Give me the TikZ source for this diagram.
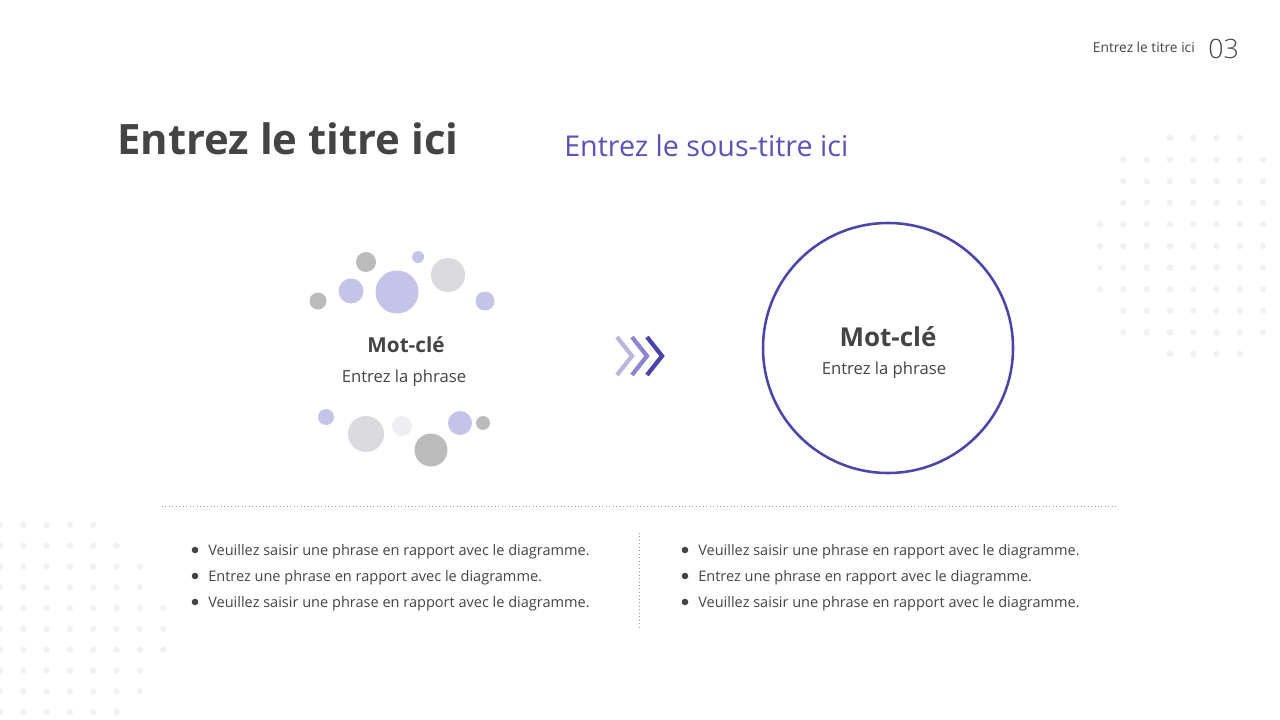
\documentclass[tikz,border=0pt]{standalone}
\usepackage{fontspec}
\setmainfont{Open Sans}
\newfontfamily\lightfont{Open Sans Light}
\definecolor{txt}{HTML}{444444}
\definecolor{indigo}{HTML}{4B45A9}
\definecolor{subc}{HTML}{5A52B8}
\definecolor{bpurple}{HTML}{C6C3E8}
\definecolor{bgray}{HTML}{BBBBBB}
\definecolor{blgray}{HTML}{D9D9DE}
\definecolor{bvlgray}{HTML}{EEEEF1}
\definecolor{dotc}{HTML}{F1F1F3}
\definecolor{chev1}{HTML}{BAB6DE}
\definecolor{chev2}{HTML}{8C86CF}
\definecolor{chev3}{HTML}{4B45A9}
\tikzset{
  bubble/.style={circle,inner sep=0pt,minimum size={0.75pt*#1}},
  bgdot/.style={fill=dotc},
  bullettext/.style={anchor=base west,inner sep=0pt,font=\fontsize{10.9pt}{12pt}\selectfont,text=txt},
  chevron/.style={line width=3.2pt,line cap=butt,line join=miter},
}
\begin{document}
\begin{tikzpicture}[x=0.75pt,y=-0.75pt]
\useasboundingbox[fill=white] (0,0) rectangle (1280,720);
% background dot patterns
\foreach \j/\a/\b in {0/3/6,1/1/7,2/1/7,3/1/7,4/0/7,5/0/7,6/0/7,7/0/7,8/1/7,9/1/7,10/3/6}{
  \foreach \k in {\a,...,\b}{
    \fill[bgdot] ({1100+23.3*\k},{138+21.6*\j}) circle (3.2);
  }
}
\foreach \j/\b in {0/4,1/5,2/6,3/6,4/7,5/7,6/7,7/6,8/6,9/5}{
  \foreach \k in {0,...,\b}{
    \fill[bgdot] ({0+23.3*\k},{525+20.8*\j}) circle (3.2);
  }
}
% header
\node[anchor=base east,inner sep=0pt,text=txt,font=\fontsize{10.3pt}{11pt}\selectfont] (hdr) at (1195,53) {Entrez le titre ici};
\node[anchor=base west,inner sep=0pt,text=txt,font=\lightfont\fontsize{20pt}{22pt}\selectfont] (num) at (1208,59) {03};
% title
\node[anchor=base west,inner sep=0pt,text=txt,font=\bfseries\fontsize{31.4pt}{34pt}\selectfont] (title) at (117,155) {Entrez le titre ici};
\node[anchor=base west,inner sep=0pt,text=subc,font=\fontsize{21.5pt}{24pt}\selectfont] (sub) at (564,157) {Entrez le sous-titre ici};
% left bubbles
\node[bubble=20,fill=bgray] (b1) at (366,262) {};
\node[bubble=12,fill=bpurple] (b2) at (418,257) {};
\node[bubble=34,fill=blgray] (b3) at (448,275) {};
\node[bubble=43,fill=bpurple] (b4) at (397,292) {};
\node[bubble=25,fill=bpurple] (b5) at (351,291) {};
\node[bubble=17,fill=bgray] (b6) at (318,301) {};
\node[bubble=19,fill=bpurple] (b7) at (485,301) {};
\node[bubble=16,fill=bpurple] (b8) at (326,417) {};
\node[bubble=36,fill=blgray] (b9) at (366,434) {};
\node[bubble=20,fill=bvlgray] (b10) at (402,426) {};
\node[bubble=24,fill=bpurple] (b11) at (460,423) {};
\node[bubble=14,fill=bgray] (b12) at (483,423) {};
\node[bubble=33,fill=bgray] (b13) at (431,450) {};
\node[anchor=base,inner sep=0pt,text=txt,font=\bfseries\fontsize{15.5pt}{17pt}\selectfont] (lk) at (406,352) {Mot-clé};
\node[anchor=base,inner sep=0pt,text=txt,font=\fontsize{12.5pt}{14pt}\selectfont] (lp) at (404,382) {Entrez la phrase};
% chevrons
\coordinate (c1t) at (617,337); \coordinate (c1m) at (632,356); \coordinate (c1b) at (617,375);
\coordinate (c2t) at (632,337); \coordinate (c2m) at (647,356); \coordinate (c2b) at (632,375);
\coordinate (c3t) at (647,337); \coordinate (c3m) at (662,356); \coordinate (c3b) at (647,375);
\draw[chevron,chev1] (c1t) -- (c1m) -- (c1b);
\draw[chevron,chev2] (c2t) -- (c2m) -- (c2b);
\draw[chevron,chev3] (c3t) -- (c3m) -- (c3b);
% right circle
\node[circle,draw=indigo,line width=1.9pt,minimum size=187.5pt,inner sep=0pt] (rc) at (888,348) {};
\node[anchor=base,inner sep=0pt,text=txt,font=\bfseries\fontsize{19.5pt}{22pt}\selectfont] (rk) at (888,346) {Mot-clé};
\node[anchor=base,inner sep=0pt,text=txt,font=\fontsize{12.5pt}{14pt}\selectfont] (rp) at (884,374) {Entrez la phrase};
% separators
\coordinate (h1) at (162,506); \coordinate (h2) at (1118,506);
\draw[dotted,draw=black!40,line width=0.6pt] (h1) -- (h2);
\coordinate (v1) at (639,533); \coordinate (v2) at (639,628);
\draw[dotted,draw=black!40,line width=0.6pt] (v1) -- (v2);
% bullets
\foreach \x/\n in {195/l,685/r}{
  \foreach \y/\t [count=\i] in {555/{Veuillez saisir une phrase en rapport avec le diagramme.},581/{Entrez une phrase en rapport avec le diagramme.},607/{Veuillez saisir une phrase en rapport avec le diagramme.}}{
    \fill[txt] (\x,\y-5) circle (3.3);
    \node[bullettext] (bt\n\i) at (\x+13,\y) {\t};
  }
}
\end{tikzpicture}
\end{document}
